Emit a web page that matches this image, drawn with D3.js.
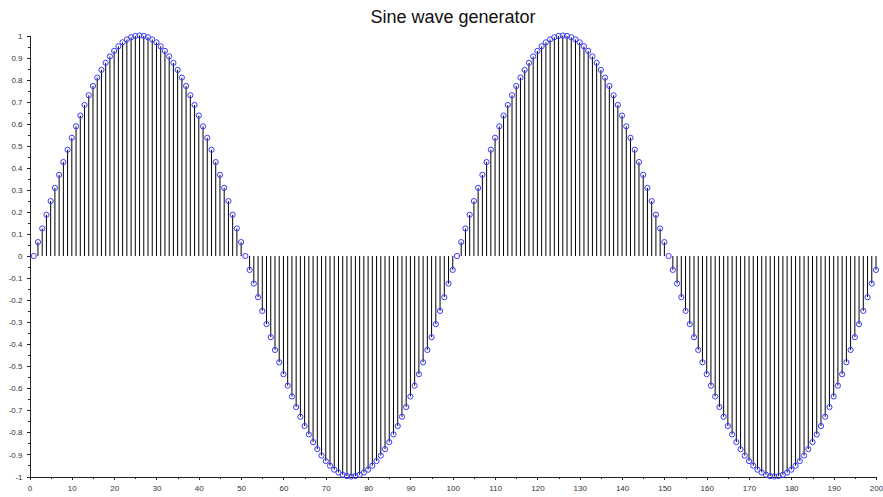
<!DOCTYPE html>
<html>
<head>
<meta charset="utf-8">
<script src="https://cdn.jsdelivr.net/npm/d3@7"></script>
<style>
  html, body { margin: 0; padding: 0; background: #fff; }
  svg { display: block; }
  .axis path, .axis line { stroke: #222; shape-rendering: crispEdges; }
  .axis text { fill: #333; font-family: "Liberation Sans", Arial, sans-serif; font-size: 8px; }
</style>
</head>
<body>
<div id="chart"></div>
<script>
// sample values (one per sample, samples 1..200)
var values = [
  0, 0.063, 0.125, 0.187, 0.249, 0.309, 0.368, 0.426, 0.482, 0.536,
  0.588, 0.637, 0.685, 0.729, 0.771, 0.809, 0.844, 0.876, 0.905, 0.930,
  0.951, 0.969, 0.982, 0.992, 0.998, 1, 0.998, 0.992, 0.982, 0.969,
  0.951, 0.930, 0.905, 0.876, 0.844, 0.809, 0.771, 0.729, 0.685, 0.637,
  0.588, 0.536, 0.482, 0.426, 0.368, 0.309, 0.249, 0.187, 0.125, 0.063,
  0, -0.063, -0.125, -0.187, -0.249, -0.309, -0.368, -0.426, -0.482, -0.536,
  -0.588, -0.637, -0.685, -0.729, -0.771, -0.809, -0.844, -0.876, -0.905, -0.930,
  -0.951, -0.969, -0.982, -0.992, -0.998, -1, -0.998, -0.992, -0.982, -0.969,
  -0.951, -0.930, -0.905, -0.876, -0.844, -0.809, -0.771, -0.729, -0.685, -0.637,
  -0.588, -0.536, -0.482, -0.426, -0.368, -0.309, -0.249, -0.187, -0.125, -0.063,
  0, 0.063, 0.125, 0.187, 0.249, 0.309, 0.368, 0.426, 0.482, 0.536,
  0.588, 0.637, 0.685, 0.729, 0.771, 0.809, 0.844, 0.876, 0.905, 0.930,
  0.951, 0.969, 0.982, 0.992, 0.998, 1, 0.998, 0.992, 0.982, 0.969,
  0.951, 0.930, 0.905, 0.876, 0.844, 0.809, 0.771, 0.729, 0.685, 0.637,
  0.588, 0.536, 0.482, 0.426, 0.368, 0.309, 0.249, 0.187, 0.125, 0.063,
  0, -0.063, -0.125, -0.187, -0.249, -0.309, -0.368, -0.426, -0.482, -0.536,
  -0.588, -0.637, -0.685, -0.729, -0.771, -0.809, -0.844, -0.876, -0.905, -0.930,
  -0.951, -0.969, -0.982, -0.992, -0.998, -1, -0.998, -0.992, -0.982, -0.969,
  -0.951, -0.930, -0.905, -0.876, -0.844, -0.809, -0.771, -0.729, -0.685, -0.637,
  -0.588, -0.536, -0.482, -0.426, -0.368, -0.309, -0.249, -0.187, -0.125, -0.063
];

var xTicks = [0, 10, 20, 30, 40, 50, 60, 70, 80, 90, 100, 110, 120, 130, 140, 150, 160, 170, 180, 190, 200];
var xMinorTicks = [5, 15, 25, 35, 45, 55, 65, 75, 85, 95, 105, 115, 125, 135, 145, 155, 165, 175, 185, 195];
var yTicks = [-1, -0.9, -0.8, -0.7, -0.6, -0.5, -0.4, -0.3, -0.2, -0.1, 0, 0.1, 0.2, 0.3, 0.4, 0.5, 0.6, 0.7, 0.8, 0.9, 1];
var yMinorTicks = [-0.95, -0.85, -0.75, -0.65, -0.55, -0.45, -0.35, -0.25, -0.15, -0.05,
  0.05, 0.15, 0.25, 0.35, 0.45, 0.55, 0.65, 0.75, 0.85, 0.95];
var title = 'Sine wave generator';

var WIDTH = 883, HEIGHT = 497;
var STEM_COLOR = '#000';
var MARK_COLOR = '#3838ff';

var svg = d3.select('#chart').append('svg')
  .attr('width', WIDTH)
  .attr('height', HEIGHT);

svg.append('rect').attr('width', WIDTH).attr('height', HEIGHT).attr('fill', '#fff');

var x = d3.scaleLinear().domain([0, 200]).range([29.5, 876]);
var y = d3.scaleLinear().domain([-1, 1]).range([476.5, 35.5]);

function fmt(d) { return String(+d.toFixed(1)); }

// minor ticks first, then major axes on top
svg.append('g').attr('class', 'axis')
  .attr('transform', 'translate(0,' + y(-1) + ')')
  .call(d3.axisBottom(x).tickValues(xMinorTicks).tickSize(2).tickFormat(''))
  .select('.domain').remove();
svg.append('g').attr('class', 'axis')
  .attr('transform', 'translate(' + x(0) + ',0)')
  .call(d3.axisLeft(y).tickValues(yMinorTicks).tickSize(2).tickFormat(''))
  .select('.domain').remove();

// stems
var samples = values.map(function (v, i) { return { n: i + 1, v: v }; });

svg.append('g').selectAll('line')
  .data(samples)
  .enter().append('line')
  .attr('x1', function (d) { return x(d.n); })
  .attr('x2', function (d) { return x(d.n); })
  .attr('y1', y(0))
  .attr('y2', function (d) { return y(d.v); })
  .attr('stroke', STEM_COLOR)
  .attr('stroke-width', 1);

svg.append('g').attr('class', 'axis')
  .attr('transform', 'translate(0,' + y(-1) + ')')
  .call(d3.axisBottom(x).tickValues(xTicks).tickSize(3).tickSizeOuter(0).tickPadding(6).tickFormat(fmt));
svg.append('g').attr('class', 'axis')
  .attr('transform', 'translate(' + x(0) + ',0)')
  .call(d3.axisLeft(y).tickValues(yTicks).tickSize(3).tickSizeOuter(0).tickPadding(4).tickFormat(fmt));

// markers
svg.append('g').selectAll('circle')
  .data(samples)
  .enter().append('circle')
  .attr('cx', function (d) { return x(d.n); })
  .attr('cy', function (d) { return y(d.v); })
  .attr('r', 2.6)
  .attr('fill', 'none')
  .attr('stroke', MARK_COLOR)
  .attr('stroke-width', 1);

svg.append('text')
  .attr('x', 453)
  .attr('y', 23)
  .attr('text-anchor', 'middle')
  .attr('font-family', '"Liberation Sans", Arial, sans-serif')
  .attr('font-size', '18px')
  .attr('fill', '#111')
  .text(title);
</script>
</body>
</html>
